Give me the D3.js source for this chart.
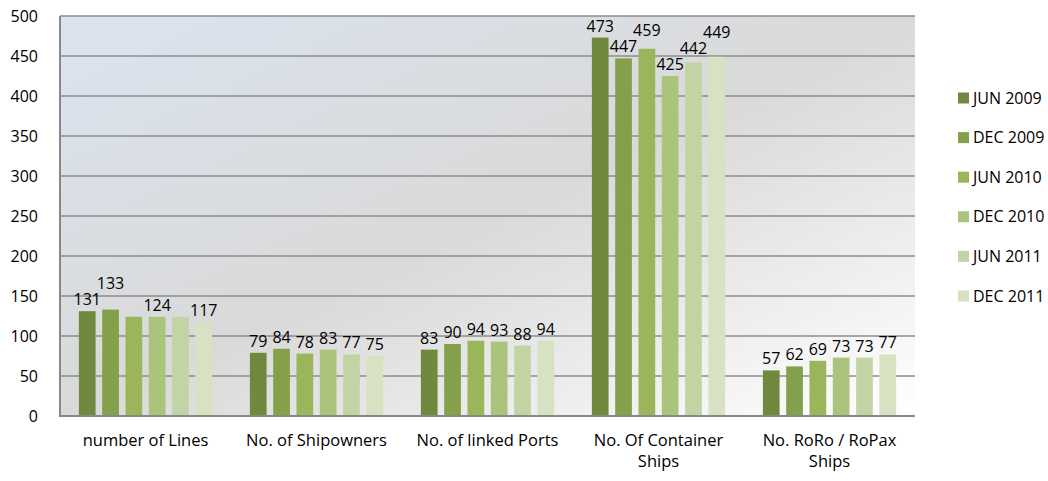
<!DOCTYPE html>
<html>
<head>
<meta charset="utf-8">
<script src="https://cdn.jsdelivr.net/npm/d3@7/dist/d3.min.js"></script>
<style>
  body { margin: 0; background: #fff; }
  text { font-family: "Open Sans", sans-serif; fill: #000; }
</style>
</head>
<body>
<div class="chart"></div>
<script>
var categories = [['number of Lines'], ['No. of Shipowners'], ['No. of linked Ports'], ['No. Of Container', 'Ships'], ['No. RoRo / RoPax', 'Ships']];
var seriesNames = ['JUN 2009', 'DEC 2009', 'JUN 2010', 'DEC 2010', 'JUN 2011', 'DEC 2011'];
var jun2009 = [131, 79, 83, 473, 57];
var dec2009 = [133, 84, 90, 447, 62];
var jun2010 = [124, 78, 94, 459, 69];
var dec2010 = [124, 83, 93, 425, 73];
var jun2011 = [124, 77, 88, 442, 73];
var dec2011 = [117, 75, 94, 449, 77];
var hiddenLabels = ['0-2', '0-4'];
var yTicks = [0, 50, 100, 150, 200, 250, 300, 350, 400, 450, 500];
var colors = ['#71893f', '#84a04b', '#9bb55a', '#abc47c', '#c3d4a4', '#d7e2c3'];

var seriesValues = [jun2009, dec2009, jun2010, dec2010, jun2011, dec2011];
var w = 1048, h = 481;
var m = {left: 60, right: 133, top: 16, bottom: 65};

var svg = d3.select('.chart').append('svg')
    .attr('width', w)
    .attr('height', h);

var grad = svg.append('defs').append('linearGradient')
    .attr('id', 'bg')
    .attr('x1', 0).attr('y1', 0).attr('x2', 1).attr('y2', 1);
grad.append('stop').attr('offset', '0%').attr('stop-color', '#dbe4f0');
grad.append('stop').attr('offset', '50%').attr('stop-color', '#d9d9d9');
grad.append('stop').attr('offset', '100%').attr('stop-color', '#ffffff');

var x0 = d3.scaleBand()
    .domain(d3.range(categories.length))
    .range([m.left, w - m.right]);
var x1 = d3.scaleBand()
    .domain(d3.range(seriesNames.length))
    .range([0, x0.bandwidth()])
    .paddingInner(0.283)
    .paddingOuter(0.81);
var y = d3.scaleLinear()
    .domain([0, 500])
    .range([h - m.bottom, m.top]);

svg.append('rect')
    .attr('x', m.left).attr('y', m.top)
    .attr('width', w - m.left - m.right)
    .attr('height', h - m.top - m.bottom)
    .style('fill', 'url(#bg)');

// gridlines
svg.selectAll('line.grid')
    .data(yTicks.slice(1))
    .enter()
    .append('line')
    .attr('class', 'grid')
    .attr('x1', m.left).attr('x2', w - m.right)
    .attr('y1', function(d){ return y(d); })
    .attr('y2', function(d){ return y(d); })
    .style('stroke', '#8c8c8c')
    .style('stroke-width', 1.5);

svg.selectAll('text.ytick')
    .data(yTicks)
    .enter()
    .append('text')
    .attr('class', 'ytick')
    .attr('x', 38)
    .attr('y', function(d){ return y(d); })
    .attr('dy', '0.35em')
    .attr('text-anchor', 'end')
    .style('font-size', '16px')
    .text(function(d){ return d; });

// bars
var groups = svg.selectAll('g.cat')
    .data(categories)
    .enter()
    .append('g')
    .attr('class', 'cat')
    .attr('transform', function(d, i){ return 'translate(' + x0(i) + ',0)'; });

var fs = 16, lh = 15;
groups.each(function(c, ci){
    var g = d3.select(this);
    var vals = seriesValues.map(function(s, si){ return {v: s[ci], si: si, ci: ci}; });
    g.selectAll('rect')
        .data(vals)
        .enter()
        .append('rect')
        .attr('x', function(d){ return x1(d.si); })
        .attr('y', function(d){ return y(d.v); })
        .attr('width', x1.bandwidth())
        .attr('height', function(d){ return y(0) - y(d.v); })
        .style('fill', function(d){ return colors[d.si]; });

    // labels: sit on bar top, lift above neighbour if they collide
    var shown = vals.filter(function(d){ return hiddenLabels.indexOf(d.ci + '-' + d.si) < 0; });
    var prev = null;
    shown.forEach(function(d){
        d.cx = x1(d.si) + x1.bandwidth() / 2;
        d.w = String(d.v).length * fs * 0.572;
        d.ly = y(d.v) - 6;
        if (prev && Math.abs(d.cx - prev.cx) < (d.w + prev.w) / 2 + 1 &&
            Math.abs(d.ly - prev.ly) < lh) {
            d.ly = prev.ly - lh - 1;
        }
        prev = d;
    });
    g.selectAll('text.val')
        .data(shown)
        .enter()
        .append('text')
        .attr('class', 'val')
        .attr('x', function(d){ return d.cx; })
        .attr('y', function(d){ return d.ly; })
        .attr('text-anchor', 'middle')
        .style('font-size', fs + 'px')
        .text(function(d){ return d.v; });
});

// axes lines
svg.append('line')
    .attr('x1', m.left).attr('x2', m.left)
    .attr('y1', m.top).attr('y2', y(0))
    .style('stroke', '#888').style('stroke-width', 2);
svg.append('line')
    .attr('x1', m.left - 1).attr('x2', w - m.right)
    .attr('y1', y(0)).attr('y2', y(0))
    .style('stroke', '#888').style('stroke-width', 2);

// category labels
groups.each(function(c){
    d3.select(this).selectAll('text.cat')
        .data(c)
        .enter()
        .append('text')
        .attr('class', 'cat')
        .attr('x', x0.bandwidth() / 2)
        .attr('y', function(d, i){ return 446 + i * 21; })
        .attr('text-anchor', 'middle')
        .style('font-size', '16.5px')
        .text(function(d){ return d; });
});

// legend
var leg = svg.selectAll('g.leg')
    .data(seriesNames)
    .enter()
    .append('g')
    .attr('class', 'leg')
    .attr('transform', function(d, i){ return 'translate(958,' + (98 + i * 39.6) + ')'; });
leg.append('rect')
    .attr('x', 0).attr('y', -5.5)
    .attr('width', 11).attr('height', 11)
    .style('fill', function(d, i){ return colors[i]; });
leg.append('text')
    .attr('x', 15)
    .attr('dy', '0.35em')
    .style('font-size', '16px')
    .text(function(d){ return d; });
</script>
</body>
</html>
